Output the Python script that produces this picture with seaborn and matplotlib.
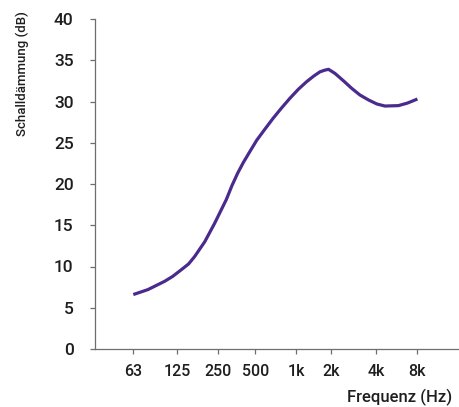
import numpy as np
import pandas as pd
import seaborn as sns
import matplotlib.pyplot as plt

sns.set_theme(style="white")
plt.rcParams['font.family'] = ['Roboto', 'DejaVu Sans']

# frequency bands and where they sit on the (slightly uneven) octave axis
band_labels = ['63', '125', '250', '500', '1k', '2k', '4k', '8k']
band_pos = [0.0, 1.08, 2.09, 3.01, 4.02, 4.88, 5.99, 7.0]

# curve (octave position, dB)
octave = [0.0, 0.36, 0.77, 0.97, 1.18, 1.36, 1.51, 1.76, 2.0, 2.29, 2.43, 2.57,
          2.71, 2.88, 3.04, 3.25, 3.45, 3.65, 3.86, 4.07, 4.27, 4.45, 4.60, 4.72,
          4.81, 4.97, 5.18, 5.38, 5.58, 5.79, 6.0, 6.2, 6.53, 6.75, 7.0]
sound_db = [6.6, 7.2, 8.2, 8.8, 9.6, 10.3, 11.2, 13.0, 15.2, 18.1, 19.8, 21.3,
            22.6, 24.0, 25.3, 26.7, 28.0, 29.2, 30.4, 31.5, 32.4, 33.1, 33.6, 33.8,
            33.9, 33.4, 32.5, 31.6, 30.8, 30.2, 29.7, 29.45, 29.5, 29.8, 30.3]

df = pd.DataFrame({'octave': octave, 'db': sound_db})

fig = plt.figure(figsize=(4.6, 4.07), dpi=100)
ax = fig.add_axes([95/460, 1 - 349/407, 363/460, 330/407])

sns.lineplot(data=df, x='octave', y='db', ax=ax, color='#4a2a8c', linewidth=2.3,
             sort=False, solid_joinstyle='round', solid_capstyle='butt')

ax.set_xlim(-0.944, 8.0)
ax.set_ylim(0, 40)
ax.set_yticks(np.arange(0, 41, 5))
ax.set_xticks(band_pos)
ax.set_xticklabels(band_labels)

sns.despine(ax=ax)
for s in ['left', 'bottom']:
    ax.spines[s].set_color('#6e6e6e')
    ax.spines[s].set_linewidth(0.9)

ax.tick_params(axis='y', direction='out', length=3.3, width=0.9, color='#6e6e6e',
               pad=12, labelsize=12.5, labelcolor='#1e1e1e', left=True)
ax.tick_params(axis='x', direction='out', length=3.5, width=0.9, color='#6e6e6e',
               pad=7, labelsize=11.5, labelcolor='#1e1e1e', bottom=True)
for lab in ax.get_xticklabels() + ax.get_yticklabels():
    lab.set_fontweight('medium')

ax.set_xlabel('Frequenz (Hz)', fontsize=12, fontweight='medium', color='#1e1e1e',
              ha='right', va='center')
ax.xaxis.set_label_coords(0.983, -0.148)
ax.set_ylabel('Schalldämmung (dB)', fontsize=9.5, fontweight='medium', color='#1e1e1e',
              va='center')
ax.yaxis.set_label_coords(-0.201, 0.836)

fig.savefig('out.png', dpi=100)
